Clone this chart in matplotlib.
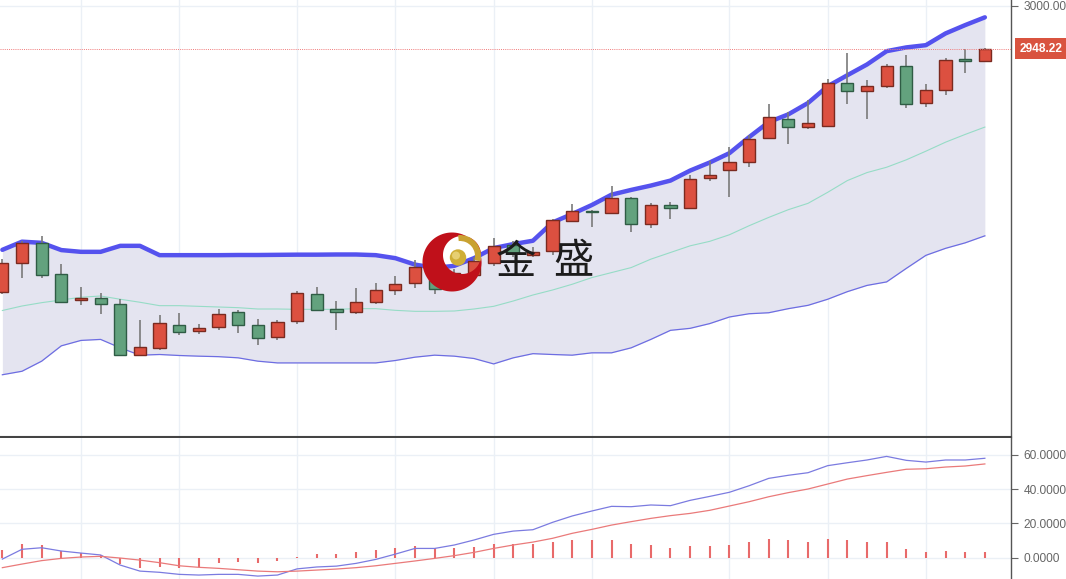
import numpy as np
import matplotlib
matplotlib.use('Agg')
import matplotlib.pyplot as plt
import matplotlib.transforms as mtransforms
from matplotlib.patches import Circle, Wedge, PathPatch
from matplotlib.path import Path

# ---- daily K-line data ----
opens = [2656.3, 2690.8, 2714.9, 2677.6, 2646.3, 2648.7, 2642.2, 2580.4, 2588.8, 2616.9,
         2608.9, 2614.5, 2632.2, 2616.9, 2601.7, 2621.3, 2653.5, 2636.2, 2631.8, 2644.2,
         2658.3, 2666.7, 2684.0, 2669.5, 2676.4, 2691.2, 2712.8, 2700.8, 2705.6, 2741.7,
         2753.8, 2751.0, 2768.6, 2737.8, 2760.2, 2757.0, 2793.2, 2802.3, 2812.8, 2840.8,
         2864.2, 2854.6, 2855.3, 2907.0, 2897.1, 2903.1, 2927.5, 2883.0, 2898.3, 2935.6,
         2933.2]
highs = [2696.0, 2717.7, 2723.7, 2690.3, 2662.3, 2655.4, 2648.2, 2622.9, 2628.6, 2630.6,
         2617.4, 2635.4, 2634.2, 2623.8, 2622.9, 2657.1, 2662.3, 2645.4, 2660.5, 2667.1,
         2675.2, 2694.4, 2691.2, 2684.0, 2698.4, 2721.6, 2717.7, 2710.4, 2744.2, 2761.9,
         2755.0, 2783.9, 2770.6, 2762.6, 2764.3, 2797.1, 2814.0, 2830.0, 2844.4, 2882.2,
         2872.1, 2887.1, 2911.9, 2943.2, 2910.3, 2930.4, 2940.4, 2906.3, 2937.2, 2947.6,
         2949.2]
lows = [2653.9, 2672.8, 2672.8, 2643.4, 2640.6, 2629.4, 2580.4, 2579.6, 2586.1, 2604.1,
        2606.1, 2610.9, 2607.3, 2592.8, 2598.1, 2618.1, 2633.7, 2610.9, 2629.4, 2641.5,
        2652.6, 2661.4, 2654.2, 2665.9, 2673.1, 2687.6, 2698.4, 2698.4, 2700.8, 2740.2,
        2733.7, 2749.8, 2728.1, 2733.0, 2743.3, 2756.2, 2789.1, 2770.6, 2806.8, 2839.6,
        2834.1, 2852.1, 2854.6, 2881.8, 2863.7, 2901.0, 2877.4, 2878.2, 2892.2, 2919.1,
        2933.2]
closes = [2691.5, 2714.9, 2676.4, 2644.2, 2648.7, 2641.8, 2580.4, 2589.7, 2619.3, 2607.7,
          2612.6, 2629.4, 2616.9, 2600.9, 2620.5, 2655.1, 2634.6, 2631.8, 2644.5, 2658.3,
          2665.9, 2686.0, 2659.9, 2679.1, 2693.6, 2711.3, 2703.2, 2704.4, 2742.6, 2753.8,
          2752.2, 2768.6, 2737.8, 2760.2, 2757.0, 2792.3, 2796.8, 2812.8, 2840.1, 2866.1,
          2854.6, 2859.4, 2907.0, 2897.1, 2903.9, 2927.5, 2881.8, 2898.3, 2934.4, 2933.2,
          2948.22]

# ---- Bollinger bands ----
boll_upper = [2706.8, 2716.6, 2715.2, 2706.5, 2704.4, 2704.4, 2711.6, 2711.6, 2700.4, 2700.4,
              2700.4, 2700.4, 2700.6, 2700.6, 2700.8, 2701.0, 2701.0, 2701.2, 2701.2, 2700.4,
              2696.8, 2689.1, 2685.1, 2687.6, 2696.8, 2708.9, 2713.7, 2717.7, 2739.7, 2749.8,
              2760.6, 2773.0, 2778.7, 2783.9, 2789.9, 2801.9, 2811.6, 2822.8, 2842.0, 2860.1,
              2869.4, 2883.0, 2903.1, 2916.3, 2929.2, 2945.2, 2949.7, 2952.4, 2966.5, 2976.5,
              2985.8]
boll_mid = [2634.0, 2639.4, 2643.4, 2646.6, 2649.9, 2651.4, 2647.5, 2643.9, 2639.8, 2639.8,
            2639.0, 2638.2, 2637.4, 2635.8, 2635.8, 2635.4, 2635.4, 2635.4, 2636.2, 2636.2,
            2634.2, 2633.0, 2633.0, 2633.4, 2635.8, 2639.0, 2645.4, 2652.6, 2658.6, 2665.5,
            2673.5, 2679.5, 2685.5, 2695.6, 2703.6, 2711.6, 2717.0, 2724.9, 2735.7, 2745.7,
            2755.0, 2762.6, 2775.8, 2789.9, 2799.5, 2805.9, 2814.8, 2825.2, 2836.0, 2845.3,
            2854.1]
boll_lower = [2556.9, 2561.1, 2573.2, 2591.6, 2598.1, 2599.3, 2589.2, 2580.4, 2581.2, 2580.0,
              2579.2, 2578.6, 2577.2, 2573.2, 2571.1, 2571.1, 2571.1, 2571.1, 2571.1, 2571.1,
              2574.0, 2578.0, 2580.4, 2579.2, 2576.4, 2569.9, 2577.2, 2582.2, 2581.2, 2580.4,
              2583.2, 2583.2, 2589.2, 2599.3, 2610.2, 2612.6, 2618.3, 2626.2, 2630.1, 2631.3,
              2636.2, 2640.2, 2647.5, 2656.6, 2664.1, 2668.3, 2684.5, 2700.2, 2708.6, 2715.2,
              2723.6]

# ---- MACD ----
dif = [-0.8, 4.9, 5.8, 3.9, 2.7, 1.6, -4.3, -7.8, -8.5, -9.7,
       -10.1, -9.7, -9.7, -10.7, -10.1, -6.5, -5.4, -4.9, -3.3, -1.0,
       2.1, 5.4, 5.4, 7.4, 10.3, 13.6, 15.5, 16.3, 20.6, 24.3,
       27.2, 29.9, 29.7, 30.7, 30.3, 33.4, 35.7, 38.1, 41.9, 46.2,
       48.0, 49.5, 53.6, 55.3, 56.9, 59.0, 56.7, 55.7, 56.9, 56.9, 57.9]
dea = [-5.8, -3.7, -1.7, -0.4, 0.4, 0.8, -0.2, -1.4, -2.9, -4.7,
       -5.6, -6.2, -7.0, -7.8, -8.2, -7.8, -7.2, -6.6, -5.8, -4.7,
       -3.3, -1.9, -0.4, 1.2, 3.1, 5.4, 7.4, 9.1, 11.3, 14.2,
       16.5, 19.0, 21.0, 22.9, 24.5, 25.8, 27.6, 30.1, 32.6, 35.5,
       37.9, 40.0, 42.9, 45.8, 47.8, 49.7, 51.5, 51.8, 52.8, 53.4, 54.6]
macd_hist = [4.5, 8.0, 7.4, 4.1, 2.9, 1.6, -3.9, -5.8, -5.4, -5.8,
             -5.2, -2.9, -2.5, -3.1, -1.9, 0.3, 2.1, 2.1, 3.1, 4.3,
             5.4, 6.8, 5.8, 5.8, 6.2, 8.2, 8.0, 7.7, 8.9, 10.1,
             10.1, 10.1, 8.2, 7.6, 5.8, 6.8, 6.8, 7.6, 8.9, 10.9,
             10.1, 9.3, 10.9, 10.1, 9.1, 8.9, 5.2, 3.3, 3.7, 3.3, 3.3]

grid_days = [4, 9, 15, 20, 25, 30, 37, 42, 47]
price_ticks = [3000]
macd_ticks = [0, 20, 40, 60]
last_price = 2948.22

RED, RED_EDGE = '#dc5040', '#7a2a20'
GREEN, GREEN_EDGE = '#63a27e', '#2f5c45'
GRID = '#ebf0f6'

plt.rcParams['font.family'] = ['Liberation Sans', 'DejaVu Sans']

fig = plt.figure(figsize=(10.66, 5.79), dpi=100)
fig.patch.set_facecolor('white')

W, H = 1066.0, 579.0
ax = fig.add_axes([0, 1 - 436.5 / H, 1011 / W, 436.5 / H])
ax2 = fig.add_axes([0, 0, 1011 / W, (H - 437.5) / H])

x = np.arange(len(closes))
xlim = (-0.12, 51.33)

# ---- price panel ----
ax.fill_between(x, boll_lower, boll_upper, color='#e4e4f0', lw=0, zorder=1)
ax.plot(x, boll_mid, color='#96dcc6', lw=0.8, zorder=2)
ax.plot(x, boll_lower, color='#6d6de2', lw=0.9, zorder=2)
ax.plot(x, boll_upper, color='#5552ee', lw=3.2, zorder=2, solid_capstyle='round')

o = np.array(opens); c = np.array(closes)
up = c >= o
ax.vlines(x, lows, highs, color='#7a7a7a', lw=1.2, zorder=3)
body_h = np.where(np.abs(c - o) < 1.0, 1.0, c - o)
ax.bar(x[up], body_h[up], bottom=o[up], width=0.62, color=RED,
       edgecolor=RED_EDGE, lw=1.0, zorder=4)
ax.bar(x[~up], body_h[~up], bottom=o[~up], width=0.62, color=GREEN,
       edgecolor=GREEN_EDGE, lw=1.0, zorder=4)

ax.axhline(last_price, color='#f07a7a', lw=0.7, ls=(0, (1, 1.2)), zorder=5)

ax.set_xlim(*xlim)
ax.set_ylim(2482.8, 3006.6)
ax.set_xticks(grid_days)
ax.set_yticks(price_ticks)
ax.set_yticklabels(['%.2f' % v for v in price_ticks])
ax.grid(True, color=GRID, lw=1)
ax.set_axisbelow(True)

# ---- MACD panel ----
ax2.vlines(x, 0, macd_hist, color='#e86a6a', lw=1.5, zorder=3)
ax2.plot(x, dif, color='#7b7be0', lw=0.9, zorder=4)
ax2.plot(x, dea, color='#ea7a7a', lw=0.9, zorder=4)
ax2.set_xlim(*xlim)
ax2.set_ylim(-12.4, 70.0)
ax2.set_xticks(grid_days)
ax2.set_yticks(macd_ticks)
ax2.set_yticklabels(['%.4f' % v for v in macd_ticks])
ax2.grid(True, color=GRID, lw=1)
ax2.set_axisbelow(True)

for a in (ax, ax2):
    a.set_facecolor('white')
    a.yaxis.tick_right()
    a.tick_params(axis='x', length=0, labelbottom=False)
    a.tick_params(axis='y', direction='out', length=5, width=0.8, color='#666666',
                  labelcolor='#666666', labelsize=8.6, pad=4)
    for s in ('left', 'top', 'bottom'):
        a.spines[s].set_visible(False)
    a.spines['right'].set_color('#555555')
    a.spines['right'].set_linewidth(1.0)
ax.spines['bottom'].set_visible(True)
ax.spines['bottom'].set_color('#444444')
ax.spines['bottom'].set_linewidth(1.5)

# last price tag on the right axis
trans = mtransforms.blended_transform_factory(ax.transAxes, ax.transData)
ax.annotate('%.2f' % last_price, xy=(1.0, last_price), xycoords=trans,
            xytext=(6.5, 0), textcoords='offset points', ha='left', va='center',
            color='white', fontsize=8.6, fontweight='bold', annotation_clip=False,
            bbox=dict(boxstyle='square,pad=0.4', fc='#d9533f', ec='none'))

# ---- watermark logo (pixel overlay) ----
ov = fig.add_axes([0, 0, 1, 1], zorder=5)
ov.set_xlim(0, W)
ov.set_ylim(H, 0)
ov.axis('off')
ov.patch.set_alpha(0)

t = np.linspace(0, 2 * np.pi, 100)
outer = np.column_stack([452 + 29.5 * np.cos(t), 262 + 29.5 * np.sin(t)])
inner = np.column_stack([462 + 19 * np.cos(t[::-1]), 255 + 19 * np.sin(t[::-1])])
codes = ([Path.MOVETO] + [Path.LINETO] * 98 + [Path.CLOSEPOLY]) * 2
ov.add_patch(PathPatch(Path(np.vstack([outer, inner]), codes), fc='#c0101a', ec='none'))
ov.add_patch(Wedge((460, 256), 21, -95, 15, width=6, fc='#c9a232', ec='none'))
ov.add_patch(Circle((458, 257.5), 8.2, fc='#cfae36', ec='none'))
ov.add_patch(Circle((456, 255.5), 4, fc='#e6cf72', ec='none'))

ov.text(516, 262, '金', fontsize=29, family=['Noto Sans CJK SC'], color='#1c1c1c',
        ha='center', va='center')
ov.text(573, 262, '盛', fontsize=29, family=['Noto Sans CJK SC'], color='#1c1c1c',
        ha='center', va='center')

fig.savefig('out.png', dpi=100)
